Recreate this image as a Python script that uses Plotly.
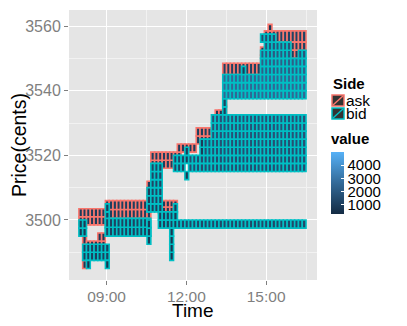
import plotly.graph_objects as go

# order book blocks: time (hour of day), price (cents), size
ask_t0 = [7.96, 8.05, 8.20, 8.70, 9.00, 10.55, 11.00, 10.72, 11.72, 12.40, 13.05, 13.33, 13.40, 14.75, 14.88, 15.07, 15.40, 16.00]
ask_t1 = [9.00, 8.17, 9.00, 9.00, 10.60, 10.66, 11.66, 11.76, 12.40, 13.07, 13.35, 13.45, 14.75, 14.90, 16.50, 15.20, 16.50, 16.20]
ask_p0 = [3498.5, 3485, 3491, 3493.5, 3500.5, 3504, 3502, 3516, 3521, 3523.5, 3532.5, 3532.5, 3545, 3548.5, 3555, 3558.5, 3552.5, 3550]
ask_p1 = [3503.5, 3495, 3493.5, 3496, 3506, 3512, 3506, 3521, 3523.5, 3528.5, 3534, 3538.5, 3548.5, 3553.5, 3558.5, 3560.5, 3555, 3552.5]
ask_val = [900, 800, 700, 800, 1000, 900, 900, 1000, 900, 1000, 800, 800, 1100, 900, 1200, 600, 1100, 1000]

bid_t0 = [7.96, 8.14, 8.20, 9.00, 8.95, 9.00, 10.55, 10.55, 10.58, 10.64, 11.00, 11.33, 11.55, 11.62, 11.58,
          11.89, 12.00, 12.13, 12.45, 12.70, 13.00, 13.35, 13.40, 14.13, 14.73, 14.75, 16.20, 14.90, 14.85]
bid_t1 = [8.29, 9.10, 8.34, 9.11, 9.11, 10.60, 10.70, 10.66, 11.14, 11.12, 11.66, 11.47, 11.69, 16.50, 12.00,
          12.01, 12.13, 16.50, 12.55, 16.50, 16.50, 13.50, 16.50, 14.28, 16.50, 16.00, 16.50, 16.00, 15.35]
bid_p0 = [3495, 3487.5, 3485, 3485, 3495, 3495, 3492.5, 3502.5, 3502.5, 3505, 3497.5, 3487.5, 3497.5, 3497.5, 3515,
          3512.5, 3517.5, 3515, 3520, 3520, 3525, 3532.5, 3537.5, 3545, 3545, 3550, 3550, 3552.5, 3555]
bid_p1 = [3500, 3492.5, 3487.5, 3487.5, 3505, 3500.5, 3500, 3510, 3505, 3517.5, 3502.5, 3497.5, 3505, 3500, 3520,
          3515, 3522.5, 3520, 3525, 3525, 3532.5, 3537.5, 3545, 3547.5, 3550, 3552.5, 3552.5, 3555, 3557.5]
bid_val = [800, 1000, 600, 600, 900, 1100, 800, 900, 1000, 1200, 1000, 700, 800, 1300, 1200,
           700, 900, 1500, 900, 1600, 1700, 1000, 2500, 900, 2200, 2000, 1800, 1800, 1500]

x_tickvals = [9, 12, 15]
x_ticktext = ["09:00", "12:00", "15:00"]
y_tickvals = [3500, 3520, 3540, 3560]
sides = ["ask", "bid"]
side_colors = ["#F8766D", "#00BFC4"]

T0 = 7.96
DT = (16.5 - T0) / 60
ROW = 2.5


def tiles(t0s, t1s, p0s, p1s, vals):
    xs, bases, hs, cs = [], [], [], []
    for t0, t1, p0, p1, v in zip(t0s, t1s, p0s, p1s, vals):
        c0 = round((t0 - T0) / DT)
        c1 = max(c0 + 1, round((t1 - T0) / DT))
        nr = max(1, round((p1 - p0) / ROW))
        h = (p1 - p0) / nr
        for c in range(c0, c1):
            for r in range(nr):
                xs.append(T0 + (c + 0.5) * DT)
                bases.append(p0 + r * h)
                hs.append(h)
                cs.append(v)
    return xs, bases, hs, cs


scale = [[0, "#132B43"], [0.5, "#336A98"], [1, "#56B1F7"]]
fig = go.Figure()
blocks = [tiles(ask_t0, ask_t1, ask_p0, ask_p1, ask_val),
          tiles(bid_t0, bid_t1, bid_p0, bid_p1, bid_val)]
for i, (name, line, data) in enumerate(zip(sides, side_colors, blocks)):
    xs, bases, hs, cs = data
    show = i == 1
    marker = dict(color=cs, colorscale=scale, cmin=250, cmax=5000,
                  line=dict(color=line, width=1.6), showscale=show)
    if show:
        marker["colorbar"] = dict(
            title=dict(text="<b>value</b>", side="top", font=dict(size=15, color="black")),
            x=1.056, xanchor="left", xpad=0, y=0.555, yanchor="top", ypad=0,
            lenmode="pixels", len=84, thickness=13, outlinewidth=0,
            tickvals=[1000, 2000, 3000, 4000], ticks="inside", ticklen=3,
            tickcolor="white", tickfont=dict(size=15, color="black"),
        )
    fig.add_trace(go.Bar(x=xs, base=bases, y=hs, width=DT, name=name,
                         marker=marker, hoverinfo="skip", showlegend=False))


# page coordinates -> paper coordinates (panel spans x 69..317, y 10..280)
def px(x):
    return (x - 69) / 248


def py(y):
    return (280 - y) / 270


# hand-drawn "Side" legend (ggplot style keys)
fig.add_annotation(text="<b>Side</b>", xref="paper", yref="paper", x=px(331), y=py(84),
                   xanchor="left", yanchor="middle", showarrow=False, font=dict(size=15))
for i, (name, col) in enumerate(zip(sides, side_colors)):
    top = 95 + i * 13
    fig.add_shape(type="rect", xref="paper", yref="paper", x0=px(332), x1=px(344),
                  y0=py(top + 11), y1=py(top), fillcolor="#333333", line=dict(color=col, width=1.5))
    fig.add_shape(type="line", xref="paper", yref="paper", x0=px(333), x1=px(343),
                  y0=py(top + 10), y1=py(top + 1), line=dict(color=col, width=1.5))
    fig.add_annotation(text=name, xref="paper", yref="paper", x=px(344), y=py(top + 5.5),
                       xanchor="left", yanchor="middle", showarrow=False, font=dict(size=15.5))

fig.add_annotation(text="Time", xref="paper", yref="paper", x=0.5, y=py(310),
                   xanchor="center", yanchor="middle", showarrow=False, font=dict(size=19))

# the page adds an 8px body margin, so the figure is drawn 8px smaller and shifted
fig.update_layout(
    width=399, height=318,
    margin=dict(l=61, r=90, t=2, b=46),
    barmode="overlay",
    plot_bgcolor="#E5E5E5", paper_bgcolor="white",
    font=dict(family="Liberation Sans, Arial, sans-serif", color="black"),
    showlegend=False,
)
fig.update_xaxes(
    range=[7.5875, 16.9125], tickvals=x_tickvals, ticktext=x_ticktext, automargin=False,
    showgrid=True, gridcolor="white", gridwidth=1.2, zeroline=False,
    ticks="outside", ticklen=4, tickcolor="#7F7F7F", ticklabelstandoff=-2,
    tickfont=dict(size=15.5, color="#7F7F7F"),
    minor=dict(tickmode="linear", tick0=7.5, dtick=1.5, showgrid=True, gridcolor="#F2F2F2", gridwidth=0.6),
)
fig.update_yaxes(
    range=[3481.44, 3564.95], tickvals=y_tickvals, automargin=False,
    showgrid=True, gridcolor="white", gridwidth=1.2, zeroline=False,
    ticks="outside", ticklen=4, tickcolor="#7F7F7F",
    tickfont=dict(size=16, color="#7F7F7F"),
    minor=dict(tickmode="linear", tick0=3490, dtick=10, showgrid=True, gridcolor="#F2F2F2", gridwidth=0.6),
    title=dict(text="Price(cents)", font=dict(size=19.5), standoff=5),
)

fig.write_html("out.html")
